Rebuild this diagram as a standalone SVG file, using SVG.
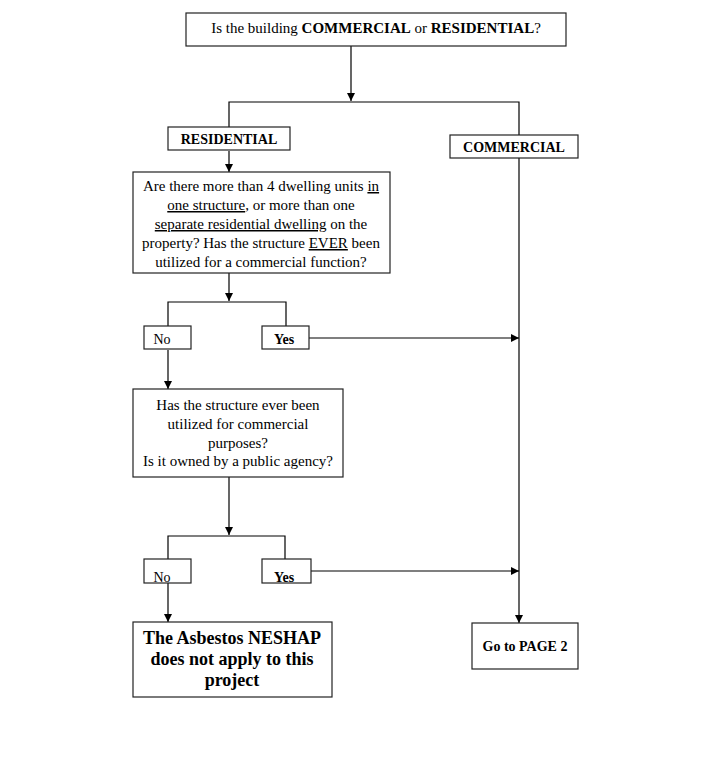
<svg xmlns="http://www.w3.org/2000/svg" width="720" height="764" viewBox="0 0 720 764">
<style>
.box{fill:#fff;stroke:#222;stroke-width:1.2}
.t{font-family:"Liberation Serif","Times New Roman",serif;font-size:15px;fill:#000;text-anchor:middle}
.b{font-weight:bold}
.ln{fill:none;stroke:#000;stroke-width:1.2}
</style>
<defs>
<marker id="ah" markerWidth="10" markerHeight="10" refX="9" refY="5" orient="auto" markerUnits="userSpaceOnUse">
<path d="M1,1 L9,5 L1,9 Z" fill="#000"/>
</marker>
<clipPath id="c1"><rect x="144" y="559" width="47" height="23"/></clipPath>
<clipPath id="c2"><rect x="262" y="559" width="49" height="23"/></clipPath>
</defs>
<rect width="720" height="764" fill="#fff"/>
<g id="connectors">
<line class="ln" x1="351" y1="46" x2="351" y2="101" marker-end="url(#ah)"/>
<polyline class="ln" points="229,128 229,102 519,102 519,135"/>
<line class="ln" x1="229" y1="151" x2="229" y2="172" marker-end="url(#ah)"/>
<line class="ln" x1="229" y1="273" x2="229" y2="301" marker-end="url(#ah)"/>
<polyline class="ln" points="168,327 168,302 286,302 286,327"/>
<line class="ln" x1="309" y1="338" x2="519" y2="338" marker-end="url(#ah)"/>
<line class="ln" x1="168" y1="350" x2="168" y2="389" marker-end="url(#ah)"/>
<line class="ln" x1="229" y1="477" x2="229" y2="535" marker-end="url(#ah)"/>
<polyline class="ln" points="168,559 168,536 285,536 285,559"/>
<line class="ln" x1="311" y1="571" x2="519" y2="571" marker-end="url(#ah)"/>
<line class="ln" x1="168" y1="583" x2="168" y2="622" marker-end="url(#ah)"/>
<line class="ln" x1="519" y1="158" x2="519" y2="623" marker-end="url(#ah)"/>
</g>
<g id="top">
<rect class="box" x="186" y="13" width="380" height="33"/>
<text class="t" x="376" y="33">Is the building <tspan class="b">COMMERCIAL</tspan> or <tspan class="b">RESIDENTIAL</tspan>?</text>
</g>
<g id="residential">
<rect class="box" x="168" y="127" width="122" height="23"/>
<text class="t b" x="229" y="144" style="font-size:14px">RESIDENTIAL</text>
</g>
<g id="commercial">
<rect class="box" x="450" y="135" width="128" height="23"/>
<text class="t b" x="514" y="152" style="font-size:14px">COMMERCIAL</text>
</g>
<g id="q1">
<rect class="box" x="133" y="172" width="257" height="101"/>
<text class="t" x="261" y="191">Are there more than 4 dwelling units <tspan text-decoration="underline">in</tspan></text>
<text class="t" x="261" y="210"><tspan text-decoration="underline">one structure</tspan>, or more than one</text>
<text class="t" x="261" y="229"><tspan text-decoration="underline">separate residential dwelling</tspan> on the</text>
<text class="t" x="261" y="248">property? Has the structure <tspan text-decoration="underline">EVER</tspan> been</text>
<text class="t" x="261" y="267">utilized for a commercial function?</text>
</g>
<g id="no1">
<rect class="box" x="144" y="326" width="47" height="23"/>
<text class="t" x="162" y="344" style="font-size:14px">No</text>
</g>
<g id="yes1">
<rect class="box" x="262" y="326" width="47" height="23"/>
<text class="t b" x="284" y="344" style="font-size:14px">Yes</text>
</g>
<g id="q2">
<rect class="box" x="133" y="389" width="210" height="88"/>
<text class="t" x="238" y="410">Has the structure ever been</text>
<text class="t" x="238" y="429">utilized for commercial</text>
<text class="t" x="238" y="448">purposes?</text>
<text class="t" x="238" y="466">Is it owned by a public agency?</text>
</g>
<g id="no2">
<rect class="box" x="144" y="559" width="47" height="24"/>
<text class="t" x="162" y="582" style="font-size:14px" clip-path="url(#c1)">No</text>
</g>
<g id="yes2">
<rect class="box" x="262" y="559" width="49" height="24"/>
<text class="t b" x="284" y="582" style="font-size:14px" clip-path="url(#c2)">Yes</text>
</g>
<g id="neshap">
<rect class="box" x="133" y="622" width="199" height="75"/>
<text class="t b" x="232" y="644" style="font-size:18px">The Asbestos NESHAP</text>
<text class="t b" x="232" y="665" style="font-size:18px">does not apply to this</text>
<text class="t b" x="232" y="686" style="font-size:18px">project</text>
</g>
<g id="page2">
<rect class="box" x="472" y="623" width="106" height="46"/>
<text class="t b" x="525" y="651" style="font-size:14px">Go to PAGE 2</text>
</g>
</svg>
